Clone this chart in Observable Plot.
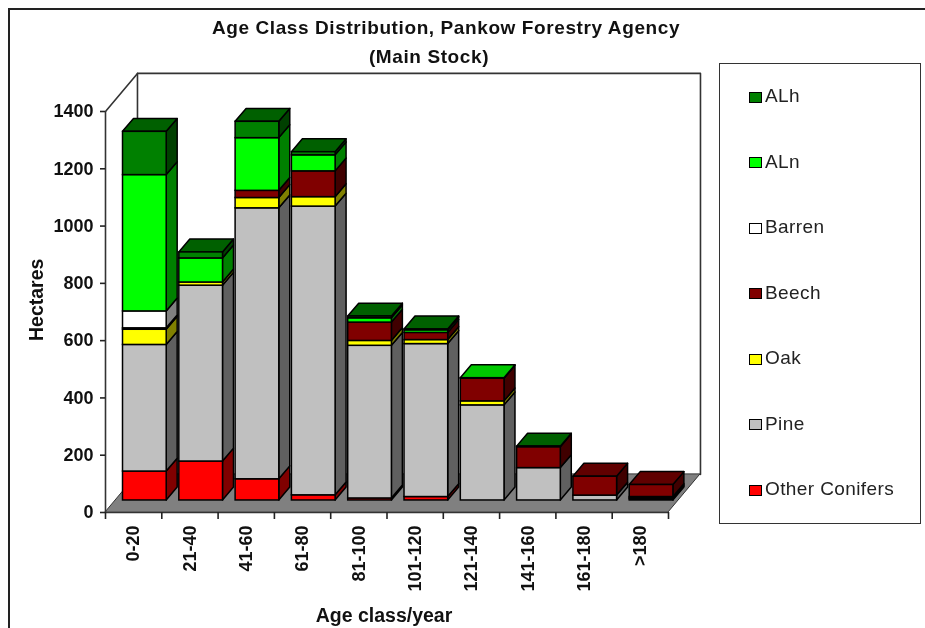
<!DOCTYPE html>
<html><head><meta charset="utf-8">
<script src="https://cdn.jsdelivr.net/npm/d3@7"></script>
<script src="https://cdn.jsdelivr.net/npm/@observablehq/plot@0.6"></script>
<style>
html,body{margin:0;background:#fff;overflow:hidden}
#page{position:relative;width:925px;height:628px;overflow:hidden;font-family:"Liberation Sans",Arial,sans-serif;filter:blur(0.4px)}
#frame{position:absolute;left:8px;top:8px;width:1000px;height:800px;border-left:2px solid #222;border-top:2px solid #222}
#plot{position:absolute;left:0;top:0}
.t{position:absolute;text-align:center;font-weight:bold;font-size:19px;line-height:20px;white-space:nowrap;color:#111;letter-spacing:0.6px;transform:translateX(-50%)}
#legend{position:absolute;left:719px;top:63px;width:200px;height:459px;border:1.5px solid #333;box-sizing:content-box}
.lr{position:absolute;left:765px;font-size:19px;line-height:20px;color:#222;white-space:nowrap;letter-spacing:0.4px}
.sw{position:absolute;left:749px;width:11px;height:9px;border:1.3px solid #000}
</style></head><body>
<div id="page"><div id="frame"></div><div id="plot"></div>
<div class="t" style="top:18px;left:446px">Age Class Distribution, Pankow Forestry Agency</div>
<div class="t" style="top:47px;left:429px">(Main Stock)</div>
<div id="legend"></div></div>
<script>
const categories = ["0-20","21-40","41-60","61-80","81-100","101-120","121-140","141-160","161-180",">180"];
const yTicks = [0,200,400,600,800,1000,1200,1400];
const otherConifers = [101,136,74,18,7,12,0,0,0,4];
const pine = [442,614,946,1008,533,534,332,113,17,4];
const oak = [53,11,36,33,17,14,14,0,0,4];
const beech = [5,0,25,90,64,25,79,73,66,42];
const barren = [59,0,0,0,0,0,0,0,0,0];
const aln = [476,84,184,56,15,9,2,0,0,0];
const alh = [151,21,57,11,6,3,0,2,0,0];

const seriesNames = ["Other Conifers","Pine","Oak","Beech","Barren","ALn","ALh"];
const seriesValues = [otherConifers,pine,oak,beech,barren,aln,alh];
const frontColors = ["#ff0000","#c0c0c0","#ffff00","#800000","#ffffff","#00ff00","#008000"];
const sideColors = ["#800000","#606060","#808000","#400000","#808080","#008000","#004000"];
const topColors = ["#c00000","#909090","#c0c000","#600000","#c0c0c0","#00c800","#006000"];

const legendOrder = ["ALh","ALn","Barren","Beech","Oak","Pine","Other Conifers"];

// 3-D projection expressed in scale units
const barStart = 0.311, barWidth = 0.776, depthX = 0.195, depthY = 45, baseY = 42, wallX = 0.568, wallY = 133;

const fronts = [], sides = [], tops = [];
categories.forEach((c,i)=>{
  let v = baseY, lastS = -1;
  const a = i + barStart, b = a + barWidth;
  seriesValues.forEach((vals,s)=>{
    const h = vals[i];
    if(!h) return;
    fronts.push({x1:a,x2:b,y1:v,y2:v+h,fill:frontColors[s]});
    const key = i+"-"+s;
    sides.push({key,x:b,y1:v,y2:v+h,fill:sideColors[s]},{key,x:b+depthX,y1:v+depthY,y2:v+h+depthY,fill:sideColors[s]});
    v += h; lastS = s;
  });
  tops.push({key:i,y:v,x1:a,x2:b,fill:topColors[lastS]},{key:i,y:v+depthY,x1:a+depthX,x2:b+depthX,fill:topColors[lastS]});
});

const floor = [{y:0,x1:0,x2:10},{y:wallY,x1:wallX,x2:10+wallX}];
const wall = [{x:0,y:1400},{x:wallX,y:1400+wallY},{x:10+wallX,y:1400+wallY},{x:10+wallX,y:wallY}];
const backEdge = [{x:wallX,y:wallY},{x:wallX,y:1400+wallY}];
const xTickPos = d3.range(0,11);
const xLabelPos = categories.map((c,i)=>i+0.5);

const chart = Plot.plot({
  width:925,height:628,marginLeft:105,marginRight:257,marginTop:111,marginBottom:116,
  style:{fontFamily:'"Liberation Sans",Arial,sans-serif',background:"transparent",color:"#111"},
  x:{type:"linear",domain:[0,10]},
  y:{type:"linear",domain:[0,1400]},
  color:{type:"identity"},
  marks:[
    Plot.line(wall,{x:"x",y:"y",stroke:"#333",strokeWidth:1.6}),
    Plot.line(backEdge,{x:"x",y:"y",stroke:"#333",strokeWidth:1.6}),
    Plot.area(floor,{x1:"x1",x2:"x2",y1:"y",y2:"y",fill:"#808080",stroke:"#333",strokeWidth:1}),
    Plot.ruleX([0],{y1:0,y2:1400,stroke:"#333",strokeWidth:1.6}),
    Plot.ruleY([0],{x1:0,x2:10,stroke:"#333",strokeWidth:1.6}),
    Plot.axisY({ticks:yTicks,tickSize:5,tickPadding:7,fontSize:18,fontWeight:"bold",stroke:"#222",strokeWidth:1.6,label:null,tickFormat:d=>String(d)}),
    Plot.axisX({ticks:xTickPos,tickSize:7,tickFormat:()=>"",label:null,stroke:"#222",strokeWidth:1.6}),
    Plot.axisX({ticks:xLabelPos,tickSize:0,tickPadding:13,tickRotate:-90,fontSize:18,fontWeight:"bold",label:null,tickFormat:d=>categories[Math.floor(d)]}),
    Plot.area(sides,{x1:"x",x2:"x",y1:"y1",y2:"y2",z:"key",fill:"fill",stroke:"#000",strokeWidth:1.5}),
    Plot.area(tops,{x1:"x1",x2:"x2",y1:"y",y2:"y",z:"key",fill:"fill",stroke:"#000",strokeWidth:1.5}),
    Plot.rect(fronts,{x1:"x1",x2:"x2",y1:"y1",y2:"y2",fill:"fill",stroke:"#000",strokeWidth:1.5}),
    Plot.text(["Hectares"],{text:d=>d,frameAnchor:"left",dx:-69,dy:29,rotate:-90,fontSize:19.5,fontWeight:"bold"}),
    Plot.text(["Age class/year"],{text:d=>d,frameAnchor:"bottom",dy:109,dx:-3,fontSize:19.5,fontWeight:"bold"})
  ]
});
document.getElementById("plot").appendChild(chart);

const page = document.getElementById("page");
legendOrder.forEach((n,i)=>{
  const c = frontColors[seriesNames.indexOf(n)];
  const y = 96 + i*65.5;
  const sw = document.createElement("div");
  sw.className="sw"; sw.style.top=(y-4.5)+"px"; sw.style.background=c; page.appendChild(sw);
  const t = document.createElement("div");
  t.className="lr"; t.style.top=(y-10)+"px"; t.textContent=n; page.appendChild(t);
});
</script></body></html>
